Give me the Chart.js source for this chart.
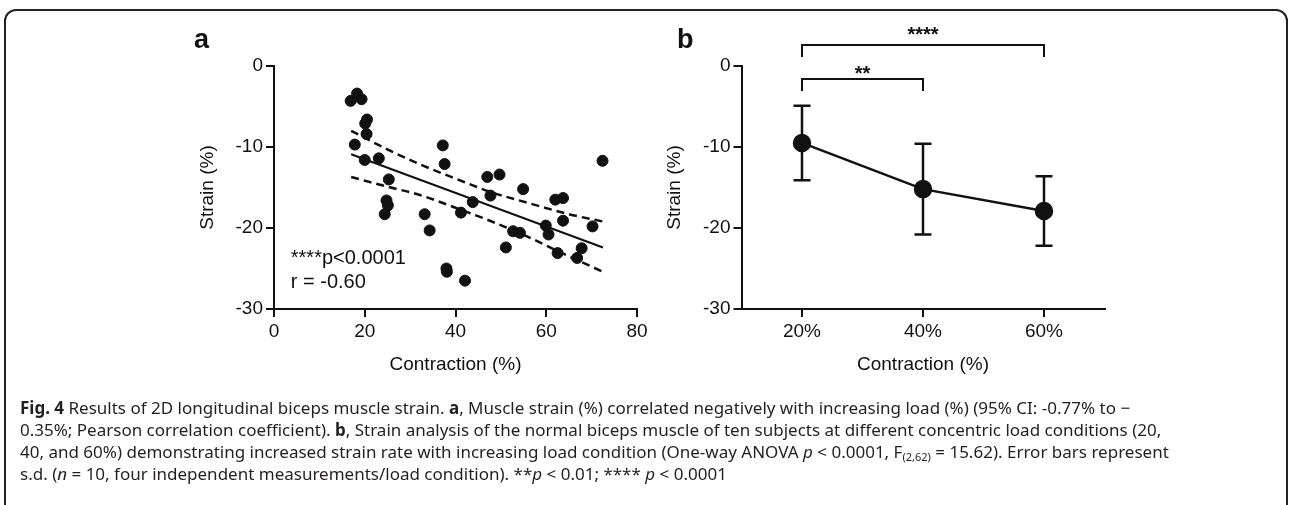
<!DOCTYPE html>
<html>
<head>
<meta charset="utf-8">
<script src="https://cdn.jsdelivr.net/npm/chart.js@4.4.0/dist/chart.umd.min.js"></script>
<style>
  html, body { margin: 0; padding: 0; background: #fff; }
  body { width: 1292px; height: 505px; position: relative; overflow: hidden; font-family: "Liberation Sans", Arial, sans-serif; }
  .frame { position: absolute; left: 4px; top: 9px; width: 1280px; height: 600px; border: 2px solid #222; border-radius: 12px; }
  #panelA { position: absolute; left: 0; top: 0; }
  #panelB { position: absolute; left: 650px; top: 0; }
  .letter { position: absolute; font: bold 27px "Liberation Sans", Arial, sans-serif; color: #111; }
  .caption { position: absolute; left: 20px; top: 397px; font-family: "Noto Sans", sans-serif; font-size: 17px; line-height: 22px; color: #231f20; white-space: nowrap; }
  .caption div { height: 22px; }
  .caption sub { font-size: 11px; line-height: 0; vertical-align: -3px; }
</style>
</head>
<body>
<div class="frame"></div>
<canvas id="panelA" width="700" height="400"></canvas>
<canvas id="panelB" width="642" height="400"></canvas>
<div class="letter" style="left:194px; top:24px;">a</div>
<div class="letter" style="left:677px; top:24px;">b</div>
<div class="caption">
  <div><b>Fig. 4</b> Results of 2D longitudinal biceps muscle strain. <b>a</b>, Muscle strain (%) correlated negatively with increasing load (%) (95% CI: -0.77% to −</div>
  <div>0.35%; Pearson correlation coefficient). <b>b</b>, Strain analysis of the normal biceps muscle of ten subjects at different concentric load conditions (20,</div>
  <div>40, and 60%) demonstrating increased strain rate with increasing load condition (One-way ANOVA <i>p</i> &lt; 0.0001, F<sub>(2,62)</sub> = 15.62). Error bars represent</div>
  <div>s.d. (<i>n</i> = 10, four independent measurements/load condition). **<i>p</i> &lt; 0.01; **** <i>p</i> &lt; 0.0001</div>
</div>
<script>
// panel a: individual measurements
const contraction = [16.9, 18.3, 19.3, 20.5, 20.1, 20.4, 17.8, 20.0, 23.1, 25.3, 24.8, 25.1, 24.4,
  33.2, 34.3, 37.2, 37.6, 38.0, 38.1, 41.2, 42.1, 43.8, 47.0, 47.7, 49.7, 51.1, 52.7, 54.2, 54.9,
  59.9, 60.5, 62.0, 62.5, 63.7, 63.7, 66.8, 67.8, 70.2, 72.4];
const strain = [-4.3, -3.4, -4.1, -6.6, -7.1, -8.4, -9.7, -11.6, -11.4, -14.0, -16.6, -17.2, -18.3,
  -18.3, -20.3, -9.8, -12.1, -25.0, -25.4, -18.1, -26.5, -16.8, -13.7, -16.0, -13.4, -22.4, -20.4, -20.6, -15.2,
  -19.7, -20.8, -16.5, -23.1, -16.3, -19.1, -23.7, -22.5, -19.8, -11.7];

// regression line and 95% confidence band
const fitX = [17, 72.5];
const fitY = [-10.9, -22.4];
const bandX = [17, 25, 32, 40, 48, 56, 65, 72.5];
const bandUpper = [-8.0, -10.3, -12.1, -13.9, -15.6, -16.9, -18.3, -19.2];
const bandLower = [-13.7, -14.9, -15.9, -17.5, -19.2, -21.1, -23.5, -25.4];

// panel b: mean +/- s.d. per load condition
const loads = ["20%", "40%", "60%"];
const strainMean = [-9.5, -15.2, -17.9];
const strainSD = [4.6, 5.6, 4.3];
const brackets = [
  { from: 0, to: 2, level: 2.6, drop: 1.5, label: "****", labelY: 4.4 },
  { from: 0, to: 1, level: -1.6, drop: 1.5, label: "**", labelY: -0.4 }
];

const tickFont = { family: "'Liberation Sans', Arial, sans-serif", size: 19 };
const ink = "#111";

const pts = (xs, ys) => xs.map((x, i) => ({ x: x, y: ys[i] }));

function yAxis() {
  return {
    min: -30, max: 0,
    ticks: { stepSize: 10, color: ink, font: tickFont, padding: 3 },
    grid: { drawOnChartArea: false, tickLength: 8, color: ink, lineWidth: 2 },
    border: { color: ink, width: 2 },
    title: { display: true, text: "Strain (%)", color: ink, font: tickFont },
    afterFit(scale) { scale.width = 82; }
  };
}

const xTitle = { display: true, text: "Contraction (%)", color: ink, font: tickFont };

new Chart(document.getElementById("panelA"), {
  type: "scatter",
  data: {
    datasets: [
      { data: pts(contraction, strain), backgroundColor: ink, borderColor: ink, pointRadius: 5.5, pointHoverRadius: 5.5 },
      { data: pts(fitX, fitY), showLine: true, borderColor: ink, borderWidth: 2, pointRadius: 0 },
      { data: pts(bandX, bandUpper), showLine: true, borderColor: ink, borderWidth: 2.5, borderDash: [8, 5], pointRadius: 0, cubicInterpolationMode: "monotone" },
      { data: pts(bandX, bandLower), showLine: true, borderColor: ink, borderWidth: 2.5, borderDash: [8, 5], pointRadius: 0, cubicInterpolationMode: "monotone" }
    ]
  },
  options: {
    responsive: false,
    animation: false,
    layout: { padding: { left: 192, right: 63, top: 66, bottom: 20 } },
    plugins: { legend: { display: false }, tooltip: { enabled: false } },
    scales: {
      x: {
        min: 0, max: 80,
        ticks: { stepSize: 20, color: ink, font: tickFont, padding: 3 },
        grid: { drawOnChartArea: false, tickLength: 8, color: ink, lineWidth: 2 },
        border: { color: ink, width: 2 },
        title: xTitle,
        afterFit(scale) { scale.height = 71; }
      },
      y: yAxis()
    }
  },
  plugins: [{
    id: "stats",
    afterDraw(chart) {
      const { ctx, scales } = chart;
      ctx.save();
      ctx.fillStyle = ink;
      ctx.font = "20px 'Liberation Sans', Arial, sans-serif";
      ctx.textBaseline = "alphabetic";
      ctx.fillText("****p<0.0001", scales.x.getPixelForValue(3.7), scales.y.getPixelForValue(-24.5));
      ctx.fillText("r = -0.60", scales.x.getPixelForValue(3.7), scales.y.getPixelForValue(-27.4));
      ctx.restore();
    }
  }]
});

new Chart(document.getElementById("panelB"), {
  type: "line",
  data: {
    labels: loads,
    datasets: [{
      data: strainMean, borderColor: ink, backgroundColor: ink, borderWidth: 2.5,
      pointRadius: 8, pointHoverRadius: 8, tension: 0
    }]
  },
  options: {
    responsive: false,
    animation: false,
    layout: { padding: { left: 9.5, right: 187.5, top: 66, bottom: 20 } },
    plugins: { legend: { display: false }, tooltip: { enabled: false } },
    scales: {
      x: {
        offset: true,
        ticks: { color: ink, font: tickFont, padding: 3 },
        grid: { drawOnChartArea: false, tickLength: 8, color: ink, lineWidth: 2, offset: false },
        border: { color: ink, width: 2 },
        title: xTitle,
        afterFit(scale) { scale.height = 71; }
      },
      y: yAxis()
    }
  },
  plugins: [{
    id: "errorBars",
    beforeDatasetsDraw(chart) {
      const { ctx, scales } = chart;
      ctx.save();
      ctx.strokeStyle = ink;
      ctx.lineWidth = 2.5;
      strainMean.forEach((m, i) => {
        const x = scales.x.getPixelForValue(i);
        const yTop = scales.y.getPixelForValue(m + strainSD[i]);
        const yBot = scales.y.getPixelForValue(m - strainSD[i]);
        ctx.beginPath();
        ctx.moveTo(x, yTop); ctx.lineTo(x, yBot);
        ctx.moveTo(x - 8.5, yTop); ctx.lineTo(x + 8.5, yTop);
        ctx.moveTo(x - 8.5, yBot); ctx.lineTo(x + 8.5, yBot);
        ctx.stroke();
      });
      ctx.restore();
    },
    afterDraw(chart) {
      const { ctx, scales } = chart;
      ctx.save();
      ctx.strokeStyle = ink;
      ctx.fillStyle = ink;
      ctx.lineWidth = 2;
      ctx.font = "bold 20px 'Liberation Sans', Arial, sans-serif";
      ctx.textAlign = "center";
      ctx.textBaseline = "alphabetic";
      brackets.forEach(b => {
        const x1 = scales.x.getPixelForValue(b.from);
        const x2 = scales.x.getPixelForValue(b.to);
        const y = scales.y.getPixelForValue(b.level);
        const yEnd = scales.y.getPixelForValue(b.level - b.drop);
        ctx.beginPath();
        ctx.moveTo(x1, yEnd); ctx.lineTo(x1, y); ctx.lineTo(x2, y); ctx.lineTo(x2, yEnd);
        ctx.stroke();
        ctx.fillText(b.label, (x1 + x2) / 2, scales.y.getPixelForValue(b.labelY) + 11);
      });
      ctx.restore();
    }
  }]
});
</script>
</body>
</html>
